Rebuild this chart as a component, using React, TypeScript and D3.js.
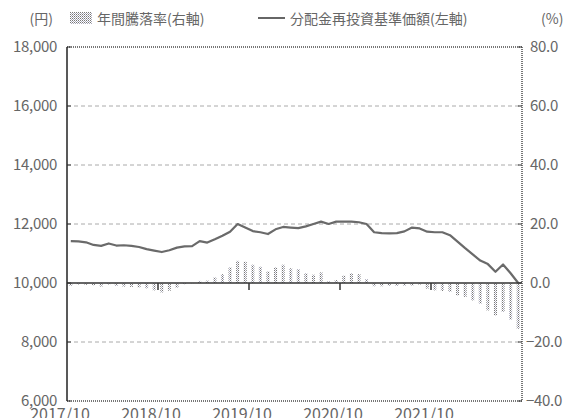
import { line as d3Line, scaleLinear, format } from 'd3'

const WIDTH = 574
const HEIGHT = 418
const PLOT = { left: 67, right: 522, top: 47, bottom: 401 }

// 分配金再投資基準価額 (円), monthly from 2017/10
const navValues = [
  11420, 11410, 11380, 11290, 11260, 11340, 11270, 11280, 11260, 11220, 11150, 11100,
  11050, 11110, 11200, 11240, 11250, 11420, 11370, 11480, 11600, 11740, 12000, 11880,
  11760, 11720, 11660, 11820, 11900, 11880, 11860, 11920, 12000, 12080, 12000, 12080,
  12080, 12080, 12060, 12000, 11720, 11690, 11680, 11690, 11750, 11880, 11850, 11740,
  11720, 11720, 11620, 11400, 11180, 10970, 10760, 10640, 10380, 10630, 10330, 10000,
]

// 年間騰落率 (%)
const annualRates = [
  -1.0, -0.5, -0.6, -0.8, -1.2, -0.5, -1.0, -1.2, -1.3, -1.5, -1.8, -2.5,
  -3.2, -2.6, -1.6, -0.4, -0.1, 0.7, 0.8, 1.9, 3.0, 5.3, 7.5, 7.2,
  6.2, 5.5, 3.9, 5.3, 6.2, 5.0, 4.7, 3.3, 2.8, 3.6, 0.6, 1.0,
  2.5, 3.3, 3.0, 1.3, -1.1, -1.1, -1.0, -1.0, -0.9, -0.9, -0.5, -1.9,
  -2.5, -2.7, -3.0, -4.2, -4.7, -5.9, -7.0, -9.3, -11.0, -9.8, -12.4, -15.5,
]

const leftTicks = [6000, 8000, 10000, 12000, 14000, 16000, 18000]
const rightTicks = [-40, -20, 0, 20, 40, 60, 80]
const gridValues = [8000, 12000, 14000, 16000]
const xLabels = ['2017/10', '2018/10', '2019/10', '2020/10', '2021/10']
const xLabelMonths = [0, 12, 24, 36, 48]
const yearTickMonths = [12, 24, 36, 48]

const FONT = '"Noto Sans CJK JP", "Noto Sans", sans-serif'
const TEXT = '#666'

export default function App() {
  const x = scaleLinear().domain([0, 60]).range([PLOT.left, PLOT.right])
  const yL = scaleLinear().domain([6000, 18000]).range([PLOT.bottom, PLOT.top])
  const yR = scaleLinear().domain([-40, 80]).range([PLOT.bottom, PLOT.top])
  const fmtL = format(',')
  const fmtR = format('.1f')

  const path = d3Line<number>()
    .x((_, i) => x(i + 0.5))
    .y((d) => yL(d))(navValues)

  const zeroY = yR(0)

  return (
    <svg
      width={WIDTH}
      height={HEIGHT}
      style={{ position: 'absolute', left: 0, top: 0, background: '#fff' }}
      fontFamily={FONT}
    >
      <defs>
        <pattern id="dots" width={2} height={2} patternUnits="userSpaceOnUse">
          <rect x={0} y={0} width={1} height={1} fill="#777" />
          <rect x={1} y={1} width={1} height={1} fill="#aab" />
        </pattern>
      </defs>

      {/* legend */}
      <text x={53} y={24} fontSize={14} fill={TEXT} textAnchor="end">(円)</text>
      <rect x={70} y={12} width={22} height={12} fill="url(#dots)" />
      <text x={97} y={24} fontSize={14} fill={TEXT}>年間騰落率(右軸)</text>
      <line x1={258} x2={285} y1={18} y2={18} stroke="#666" strokeWidth={2} />
      <text x={290} y={24} fontSize={14} fill={TEXT}>分配金再投資基準価額(左軸)</text>
      <text x={541} y={24} fontSize={14} fill={TEXT}>(%)</text>

      {/* grid */}
      {gridValues.map((v) => (
        <line key={v} x1={PLOT.left} x2={PLOT.right} y1={yL(v)} y2={yL(v)} stroke="#aaa" strokeDasharray="4,3" />
      ))}

      {/* bars */}
      {annualRates.map((r, i) => (
        <rect
          key={i}
          x={x(i + 0.5) - 1.5}
          y={Math.min(yR(r), zeroY)}
          width={3}
          height={Math.abs(yR(r) - zeroY)}
          fill="url(#dots)"
        />
      ))}

      {/* line */}
      <path d={path ?? undefined} fill="none" stroke="#6a6a6a" strokeWidth={2.2} strokeLinejoin="round" />

      {/* zero line and year ticks */}
      <line x1={PLOT.left} x2={PLOT.right} y1={zeroY} y2={zeroY} stroke="#333" strokeWidth={1.5} />
      {yearTickMonths.map((m) => (
        <line key={m} x1={x(m)} x2={x(m)} y1={zeroY} y2={zeroY + 7} stroke="#333" strokeWidth={1.5} />
      ))}

      {/* frame */}
      <line x1={PLOT.left} x2={PLOT.right} y1={PLOT.top} y2={PLOT.top} stroke="#777" strokeWidth={2} strokeDasharray="1,1" />
      <line x1={PLOT.left} x2={PLOT.right} y1={PLOT.bottom} y2={PLOT.bottom} stroke="#777" strokeWidth={2} strokeDasharray="1,1" />
      <line x1={PLOT.right} x2={PLOT.right} y1={PLOT.top} y2={PLOT.bottom} stroke="#777" strokeWidth={2} strokeDasharray="1,1" />
      <line x1={PLOT.left} x2={PLOT.left} y1={PLOT.top} y2={PLOT.bottom} stroke="#222" strokeWidth={1.5} />

      {/* axis ticks */}
      {leftTicks.map((v) => (
        <g key={v}>
          <line x1={PLOT.left} x2={PLOT.left + 4} y1={yL(v)} y2={yL(v)} stroke="#333" />
          <text x={57} y={yL(v) + 5} fontSize={15} fill={TEXT} textAnchor="end" letterSpacing={-0.3}>
            {fmtL(v)}
          </text>
        </g>
      ))}
      {rightTicks.map((v) => (
        <g key={v}>
          <line x1={PLOT.right - 4} x2={PLOT.right} y1={yR(v)} y2={yR(v)} stroke="#333" />
          <text x={v < 0 ? 526 : 530} y={yR(v) + 5} fontSize={15} fill={TEXT} letterSpacing={-0.3}>
            {fmtR(v)}
          </text>
        </g>
      ))}

      {/* x labels */}
      {xLabels.map((label, i) => (
        <text key={label} x={x(xLabelMonths[i]) - 7} y={420} fontSize={16} fill={TEXT} textAnchor="middle">
          {label}
        </text>
      ))}
    </svg>
  )
}
